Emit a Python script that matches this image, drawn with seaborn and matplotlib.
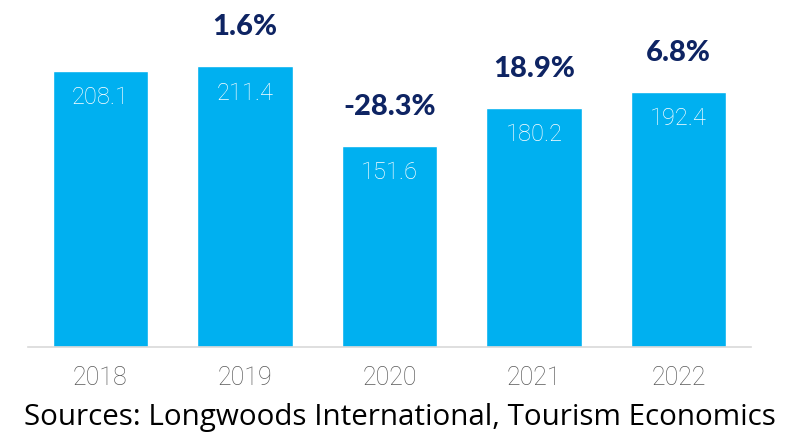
import matplotlib
matplotlib.use("Agg")
import matplotlib.pyplot as plt
import seaborn as sns
import pandas as pd

years = ["2018", "2019", "2020", "2021", "2022"]
visitors = [208.1, 211.4, 151.6, 180.2, 192.4]
growth_labels = ["", "1.6%", "-28.3%", "18.9%", "6.8%"]
source_note = "Sources: Longwoods International, Tourism Economics"

BAR_BLUE = "#00B0F0"
NAVY = "#0E2463"
GREY = "#595959"

sns.set_theme(style="white")
plt.rcParams["font.family"] = ["Roboto", "DejaVu Sans"]

df = pd.DataFrame({"year": years, "visitors": visitors})

W, H = 791, 433
fig = plt.figure(figsize=(W / 100, H / 100), dpi=100)
ax = fig.add_axes([28 / W, 1 - 347 / H, (751 - 28) / W, 347 / H])

sns.barplot(data=df, x="year", y="visitors", color=BAR_BLUE, width=0.66,
            saturation=1, ax=ax)

ax.set_ylim(0, 347 / 1.327)
ax.set_xlim(-0.5, len(years) - 0.5)
ax.set_xlabel("")
ax.set_ylabel("")
ax.set_yticks([])
for side in ["top", "right", "left"]:
    ax.spines[side].set_visible(False)
ax.spines["bottom"].set_color("#D9D9D9")
ax.spines["bottom"].set_linewidth(1.2)
ax.tick_params(axis="x", length=0, pad=14, labelsize=18, labelcolor=GREY)
for lbl in ax.get_xticklabels():
    lbl.set_fontweight("light")

for i, (v, g) in enumerate(zip(visitors, growth_labels)):
    ax.annotate(f"{v:.1f}", (i, v), xytext=(0, -27), textcoords="offset pixels",
                ha="center", va="center", color="white", fontsize=17,
                fontweight="light")
    if g:
        ax.annotate(g, (i, v), xytext=(0, 39), textcoords="offset pixels",
                    ha="center", va="center", color=NAVY, fontsize=21,
                    fontweight="black", family=["Lato", "DejaVu Sans"])

fig.text(400 / W, 1 - 425.5 / H, source_note, ha="center", va="baseline",
         fontsize=21.3, color="black", family=["Open Sans", "DejaVu Sans"])

fig.savefig("out.png", dpi=100)
